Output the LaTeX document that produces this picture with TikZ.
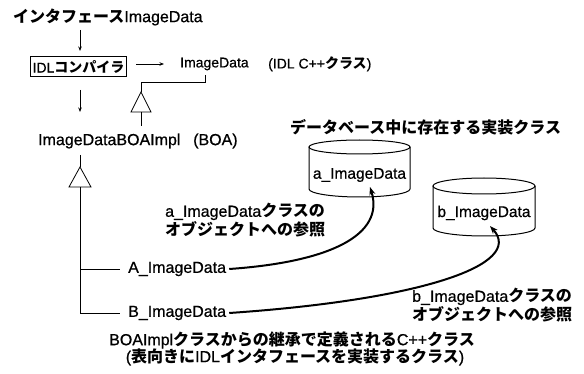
\documentclass[tikz,border=0pt]{standalone}
\usepackage{fontspec}
\setmainfont{Liberation Sans}[FakeBold=0.7]
\newfontfamily\jpf{Noto Sans CJK JP}
\usetikzlibrary{arrows.meta}
\newcommand{\J}[1]{{\jpf\bfseries #1}}
\begin{document}
\begin{tikzpicture}[x=1pt,y=-1pt,
  txt/.style={inner sep=0pt, anchor=west, font=\fontsize{16}{15}\selectfont},
  mid/.style={inner sep=0pt, font=\fontsize{16}{15}\selectfont},
  thinl/.style={line width=0.8pt},
  tarrow/.style={thinl,-{Stealth[length=4.5pt,width=3.5pt]}},
  refarrow/.style={line width=2pt,-{Stealth[length=8pt,width=6pt]}},
  gen/.style={thinl, fill=white},
  cylline/.style={line width=1pt}
]
\useasboundingbox (0,0) rectangle (584,374);

% texts
\node[txt] (title) at (13,17) {\J{インタフェース}ImageData};
\node[draw, line width=1pt, inner xsep=2.5pt, inner ysep=0pt, minimum height=20pt,
      font=\fontsize{14}{14}\selectfont] (idl) at (78.5,67) {IDL\J{コンパイラ}};
\node[txt, font=\fontsize{14}{14}\selectfont] (imgd) at (180,64) {ImageData};
\node[txt, font=\fontsize{14}{14}\selectfont] (idlcpp) at (268,64) {(IDL C++\J{クラス})};
\node[txt] (boa) at (38,141) {ImageDataBOAImpl};
\node[txt] (boan) at (193,141) {(BOA)};
\node[txt] (dbt) at (290,127) {\J{データベース中に存在する実装クラス}};
\node[txt] (an) at (128,269) {A\_ImageData};
\node[txt] (bn) at (128,313) {B\_ImageData};
\node[txt, align=left] (aref) at (165,220) {a\_ImageData\J{クラスの}\\\J{オブジェクトへの参照}};
\node[txt, align=left] (bref) at (412,305) {b\_ImageData\J{クラスの}\\\J{オブジェクトへの参照}};
\node[mid] (bot1) at (292,340) {BOAImpl\J{クラスからの継承で定義される}C++\J{クラス}};
\node[mid] (bot2) at (295,357) {(\J{表向きに}IDL\J{インタフェースを実装するクラス})};

% cylinders
\draw[cylline] (359.5,147) ellipse [x radius=50.5, y radius=7];
\draw[cylline] (309,147) -- (309,189)
  .. controls (309,193.4) and (331.6,197) .. (359.5,197)
  .. controls (387.4,197) and (410,193.4) .. (410,189) -- (410,147);
\node[mid, font=\fontsize{15.5}{15}\selectfont] (acyl) at (359.5,175) {a\_ImageData};

\draw[cylline] (484,186) ellipse [x radius=51, y radius=8];
\draw[cylline] (433,186) -- (433,228)
  .. controls (433,232.4) and (455.8,236) .. (484,236)
  .. controls (512.2,236) and (535,232.4) .. (535,228) -- (535,186);
\node[mid, font=\fontsize{15.5}{15}\selectfont] (bcyl) at (484,213) {b\_ImageData};

% coordinates
\coordinate (a1s) at (80,30);
\coordinate (a1e) at (80,51);
\coordinate (a2s) at (80,90);
\coordinate (a2e) at (80,112);
\coordinate (tick) at (205,75);
\coordinate (tc) at (205,82);
\coordinate (tl) at (141,82);
\coordinate (t1) at (141,92);
\coordinate (t1b) at (141,112);
\coordinate (t1e) at (141,126);
\coordinate (l2s) at (80,155);
\coordinate (t2) at (80,167);
\coordinate (t2b) at (80,187);
\coordinate (aend) at (370,187);
\coordinate (bend) at (490,226);

% arrows
\draw[tarrow] (a1s) -- (a1e);
\draw[tarrow] (a2s) -- (a2e);
\draw[tarrow] ([xshift=9pt]idl.east |- imgd.west) -- ([xshift=-16pt]imgd.west);

% generalization 1
\draw[thinl] (tick) -- (tc) -- (tl) -- (t1);
\draw[gen] (t1) -- ++(-10,20) -- ++(20,0) -- cycle;
\draw[thinl] (t1b) -- (t1e);

% generalization 2
\draw[thinl] (l2s) -- (t2);
\draw[gen] (t2) -- ++(-11,20) -- ++(22,0) -- cycle;
\draw[thinl] (t2b) -- (t2b |- bn.west) -- ([xshift=-8pt]bn.west);
\draw[thinl] (t2b |- an.west) -- ([xshift=-8pt]an.west);

% references
\draw[refarrow] ([xshift=3pt]an.east) .. controls (330,262) and (385,235) .. (aend);
\draw[refarrow] ([xshift=3pt]bn.east) .. controls (420,300) and (525,265) .. (bend);
\end{tikzpicture}
\end{document}
